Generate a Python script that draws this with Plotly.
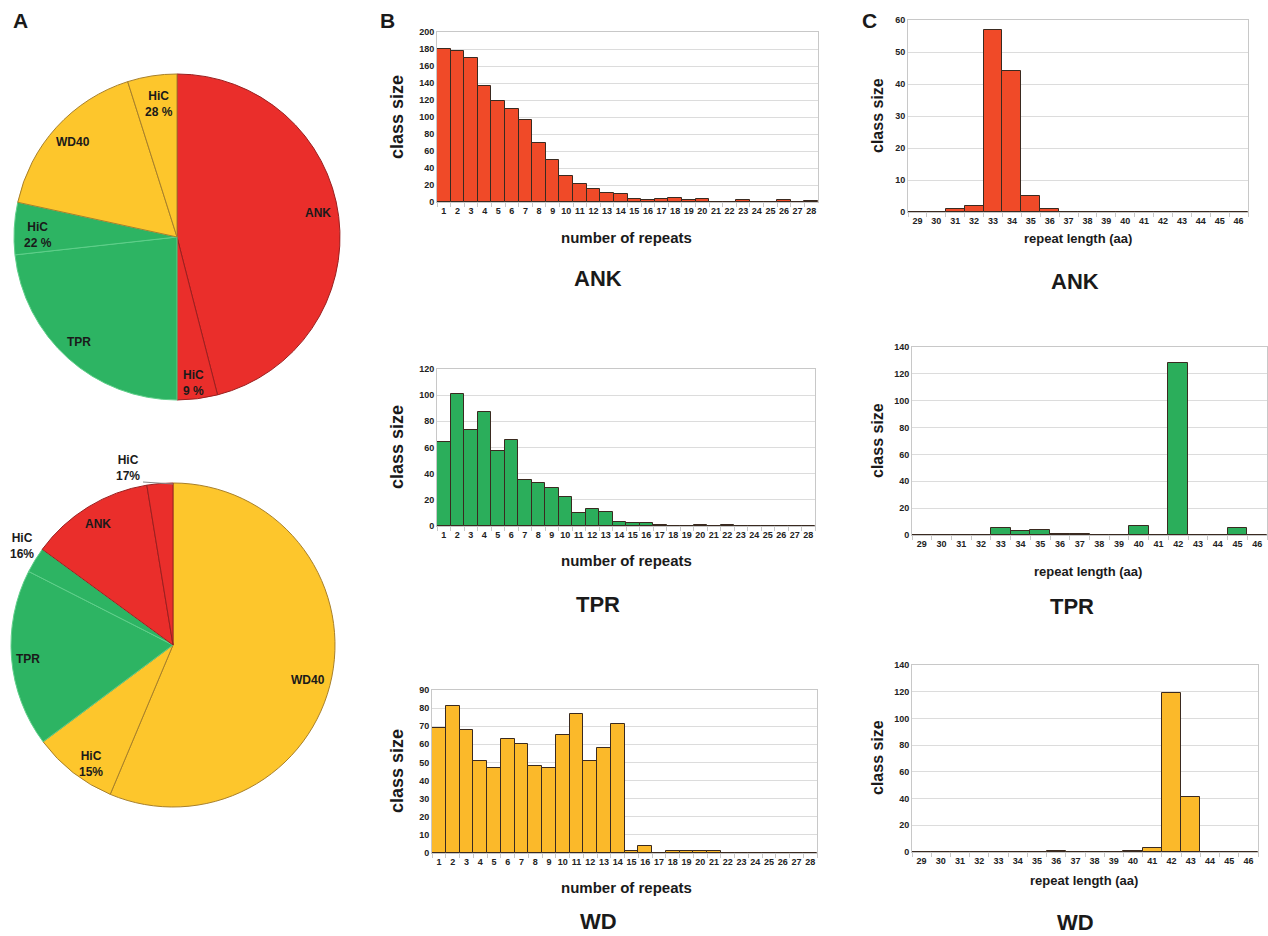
import plotly.graph_objects as go

W, H = 1268, 936

# ---------------- data ----------------
pie1_labels = ["ANK", "HiC (ANK)", "TPR", "HiC (TPR)", "WD40", "HiC (WD40)"]
pie1_values = [165.6, 14.4, 83.7, 18.6, 60.1, 17.6]
pie2_labels = ["WD40", "HiC (WD40)", "TPR", "HiC (TPR)", "ANK", "HiC (ANK)"]
pie2_values = [202.8, 30.5, 63.7, 9.2, 44.5, 9.3]

repeats = [str(i) for i in range(1, 29)]
ank_repeats = [180, 178, 170, 137, 119, 109, 97, 70, 49, 31, 21, 15, 11, 10, 3, 2, 4, 5, 2, 4, 0, 0, 2, 0, 0, 2, 0, 1]
tpr_repeats = [64, 101, 73, 87, 57, 66, 35, 33, 29, 22, 10, 13, 11, 3, 2, 2, 1, 0, 0, 1, 0, 1, 0, 0, 0, 0, 0, 0]
wd_repeats = [69, 81, 68, 51, 47, 63, 60, 48, 47, 65, 77, 51, 58, 71, 1, 4, 0, 1, 1, 1, 1, 0, 0, 0, 0, 0, 0, 0]

lengths = [str(i) for i in range(29, 47)]
ank_lengths = [0, 0, 1, 2, 57, 44, 5, 1, 0, 0, 0, 0, 0, 0, 0, 0, 0, 0]
tpr_lengths = [0, 0, 0, 0, 5, 3, 4, 1, 1, 0, 0, 7, 0, 128, 0, 0, 5, 0]
wd_lengths = [0, 0, 0, 0, 0, 0, 0, 1, 0, 0, 0, 1, 3, 119, 41, 0, 0, 0]

RED, GREEN, YELLOW = "#EA2E2B", "#2DB463", "#FDC62C"
RED_B, GREEN_B, YELLOW_B = "#F04A28", "#2BAE5B", "#FBB92A"
FONT = "Liberation Sans, Arial, sans-serif"

def px_x(x):
    return x / W

def px_y(y):
    return 1 - y / H

fig = go.Figure()

# ---------------- pies ----------------
pie1_colors = [RED, RED, GREEN, GREEN, YELLOW, YELLOW]
pie1_lines = ["#9a2020", "#9a2020", "#5fcf8a", "#5fcf8a", "#a8802a", "#a8802a"]
fig.add_trace(go.Pie(labels=pie1_labels, values=pie1_values, sort=False, direction="clockwise",
                     rotation=0, textinfo="none", hoverinfo="label+value", automargin=False,
                     marker=dict(colors=pie1_colors, line=dict(color=pie1_lines, width=1)),
                     domain=dict(x=[px_x(14), px_x(340)], y=[px_y(400), px_y(74)]),
                     showlegend=False))
pie2_colors = [YELLOW, YELLOW, GREEN, GREEN, RED, RED]
pie2_lines = ["#a8802a", "#a8802a", "#5fcf8a", "#5fcf8a", "#9a2020", "#9a2020"]
fig.add_trace(go.Pie(labels=pie2_labels, values=pie2_values, sort=False, direction="clockwise",
                     rotation=0, textinfo="none", hoverinfo="label+value", automargin=False,
                     marker=dict(colors=pie2_colors, line=dict(color=pie2_lines, width=1)),
                     domain=dict(x=[px_x(11), px_x(335)], y=[px_y(807), px_y(483)]),
                     showlegend=False))

# ---------------- bar panels ----------------
panels = [
    (repeats, ank_repeats, RED_B, (437, 818), (32, 202), 200, 20),
    (repeats, tpr_repeats, GREEN_B, (437, 815), (369, 526), 120, 20),
    (repeats, wd_repeats, YELLOW_B, (432, 817), (690, 853), 90, 10),
    (lengths, ank_lengths, RED_B, (908, 1248), (20, 212), 60, 10),
    (lengths, tpr_lengths, GREEN_B, (912, 1267), (347, 535), 140, 20),
    (lengths, wd_lengths, YELLOW_B, (912, 1258), (665, 852), 140, 20),
]

for i, (xs, ys, col, xd, yd, ymax, dt) in enumerate(panels):
    n = i + 1
    xa = "x" if n == 1 else f"x{n}"
    ya = "y" if n == 1 else f"y{n}"
    fig.add_trace(go.Bar(x=xs, y=ys, marker=dict(color=col, line=dict(color="#3a2a20", width=1)),
                         xaxis=xa, yaxis=ya, showlegend=False, width=1.0))
    xkey = "xaxis" if n == 1 else f"xaxis{n}"
    ykey = "yaxis" if n == 1 else f"yaxis{n}"
    fig.layout[xkey] = dict(domain=[px_x(xd[0]), px_x(xd[1])], anchor=ya, type="category",
                            range=[-0.5, len(xs) - 0.5], showline=True, linecolor="#c8c8c8",
                            mirror=True, ticks="outside", tickson="boundaries", ticklen=4,
                            tickcolor="#c8c8c8", showgrid=False, tickangle=0, automargin=False,
                            tickfont=dict(size=9, color="#222", family=FONT, weight="bold"),
                            fixedrange=True)
    fig.layout[ykey] = dict(domain=[px_y(yd[1]), px_y(yd[0])], anchor=xa, range=[0, ymax],
                            dtick=dt, showline=True, linecolor="#c8c8c8", mirror=True,
                            showgrid=True, gridcolor="#dcdcdc", gridwidth=1, zeroline=False,
                            automargin=False,
                            tickfont=dict(size=9, color="#222", family=FONT, weight="bold"),
                            fixedrange=True)

fig.update_layout(bargap=0)

# ---------------- annotations ----------------
ann = []

def txt(x, y, s, size=13, angle=0, xanchor="center"):
    ann.append(dict(x=px_x(x), y=px_y(y), xref="paper", yref="paper", text=s, showarrow=False,
                    font=dict(size=size, color="#1a1a1a", family=FONT, weight="bold"),
                    textangle=angle, xanchor=xanchor, yanchor="middle"))

# panel letters
txt(20, 20, "A", 21)
txt(387, 20, "B", 21)
txt(870, 20, "C", 21)

# pie 1 labels
txt(318, 213, "ANK", 12)
txt(193, 383, "HiC<br>9 %", 12)
txt(79, 342, "TPR", 12)
txt(38, 235, "HiC<br>22 %", 12)
txt(73, 142, "WD40", 12)
txt(159, 104, "HiC<br>28 %", 12)

# pie 2 labels
txt(128, 468, "HiC<br>17%", 12)
txt(98, 524, "ANK", 12)
txt(22, 546, "HiC<br>16%", 12)
txt(28, 659, "TPR", 12)
txt(91, 764, "HiC<br>15%", 12)
txt(308, 680, "WD40", 12)

# y titles
for yc in (117, 447, 771):
    txt(397, yc, "class size", 18, angle=-90)
for yc in (116, 441, 758):
    txt(877, yc, "class size", 16, angle=-90)

# x titles
txt(626, 237, "number of repeats", 15)
txt(626, 560, "number of repeats", 15)
txt(626, 887, "number of repeats", 15)
txt(1078, 239, "repeat length (aa)", 13)
txt(1088, 571, "repeat length (aa)", 13)
txt(1084, 880, "repeat length (aa)", 13)

# big panel labels
txt(598, 278, "ANK", 22)
txt(598, 604, "TPR", 22)
txt(598, 921, "WD", 22)
txt(1075, 281, "ANK", 22)
txt(1072, 606, "TPR", 22)
txt(1075, 922, "WD", 22)

fig.update_layout(
    annotations=ann,
    shapes=[dict(type="line", xref="paper", yref="paper", x0=px_x(143), y0=px_y(482),
                 x1=px_x(173), y1=px_y(484), line=dict(color="#888", width=1))],
    width=W, height=H, margin=dict(l=0, r=0, t=0, b=0),
    paper_bgcolor="white", plot_bgcolor="white",
    font=dict(family=FONT),
)

fig.write_html("out.html", config={"displayModeBar": False},
               post_script="document.body.style.margin='0';document.body.style.overflow='hidden';")
